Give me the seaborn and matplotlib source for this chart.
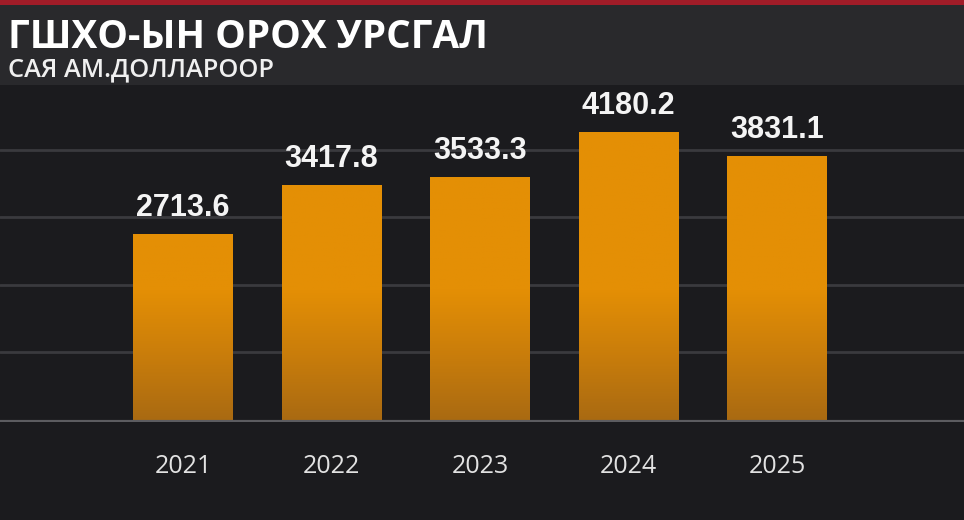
import numpy as np
import matplotlib
matplotlib.use("Agg")
import matplotlib.pyplot as plt
import matplotlib.patches as mpatches
from matplotlib.colors import LinearSegmentedColormap
import seaborn as sb

# data
years = ["2021", "2022", "2023", "2024", "2025"]
values = [2713.6, 3417.8, 3533.3, 4180.2, 3831.1]
value_labels = ["2713.6", "3417.8", "3533.3", "4180.2", "3831.1"]
grid_levels = [1000, 1975, 2950, 3930]

title = "ГШХО-ЫН ОРОХ УРСГАЛ"
subtitle = "САЯ АМ.ДОЛЛАРООР"

bg = "#1b1b1e"
header_bg = "#29292c"
bar_top = "#e48f05"
bar_bottom = "#a96a12"

sb.set_style("dark")
plt.rcParams['font.family'] = ['Open Sans', 'DejaVu Sans']

fig = plt.figure(figsize=(9.64, 5.20), dpi=100, facecolor=bg)

# header band and red strip
fig.patches.append(mpatches.Rectangle((0, 1 - 85 / 520), 1, 80 / 520, transform=fig.transFigure,
                                      facecolor=header_bg, edgecolor="none", zorder=0))
fig.patches.append(mpatches.Rectangle((0, 1 - 5 / 520), 1, 5 / 520, transform=fig.transFigure,
                                      facecolor="#a01c28", edgecolor="none", zorder=0))

ax = fig.add_axes([0, (520 - 421.5) / 520, 1, (421.5 - 85) / 520])
ax.set_facecolor(bg)

sb.barplot(x=years, y=values, color=bar_top, saturation=1, width=0.667, ax=ax, zorder=3)

ax.set_xlim(-183 / 148.5, (964 - 183) / 148.5)
ax.set_ylim(0, 336.5 / 0.0692)

# gradient fill on each bar, darker near the baseline
cmap = LinearSegmentedColormap.from_list("bar", [bar_bottom, "#c97d0b", bar_top, bar_top],
                                         N=256)
fade_top = 1900.0
for patch in ax.patches:
    x0 = patch.get_x()
    w = patch.get_width()
    h = patch.get_height()
    ys = np.linspace(0, h, 200)
    grad = np.clip(ys / fade_top, 0, 1)[:, None] * 0.67
    im = ax.imshow(grad, cmap=cmap, vmin=0, vmax=1, aspect="auto", origin="lower",
                   extent=[x0, x0 + w, 0, h], zorder=4)
    im.set_clip_path(patch)
    patch.set_edgecolor("none")

ax.set_yticks(grid_levels)
ax.set_yticklabels([])
ax.grid(axis="y", color="#3a3a3e", linewidth=2)
ax.grid(axis="x", visible=False)
ax.tick_params(axis="y", length=0)
ax.tick_params(axis="x", length=0, pad=23.5, labelsize=18, labelcolor="#e2e2e2")
ax.axhline(0, color="#5c5c60", linewidth=3, zorder=5)
for s in ax.spines.values():
    s.set_visible(False)
ax.set_xlabel("")
ax.set_ylabel("")

for i, v in enumerate(values):
    ax.annotate(value_labels[i], (i, v), xytext=(0, 8), textcoords="offset points",
                ha="center", va="bottom", color="#f4f4f4", fontsize=22,
                fontweight="bold", family="Liberation Sans", zorder=6)

fig.text(8 / 964, 1 - 48 / 520, title, color="white", fontsize=27.8, fontweight="bold",
         va="baseline", ha="left")
fig.text(8 / 964, 1 - 76 / 520, subtitle, color="#f0f0f0", fontsize=18.3, fontweight=600,
         va="baseline", ha="left")

fig.savefig("out.png", dpi=100, facecolor=bg)
